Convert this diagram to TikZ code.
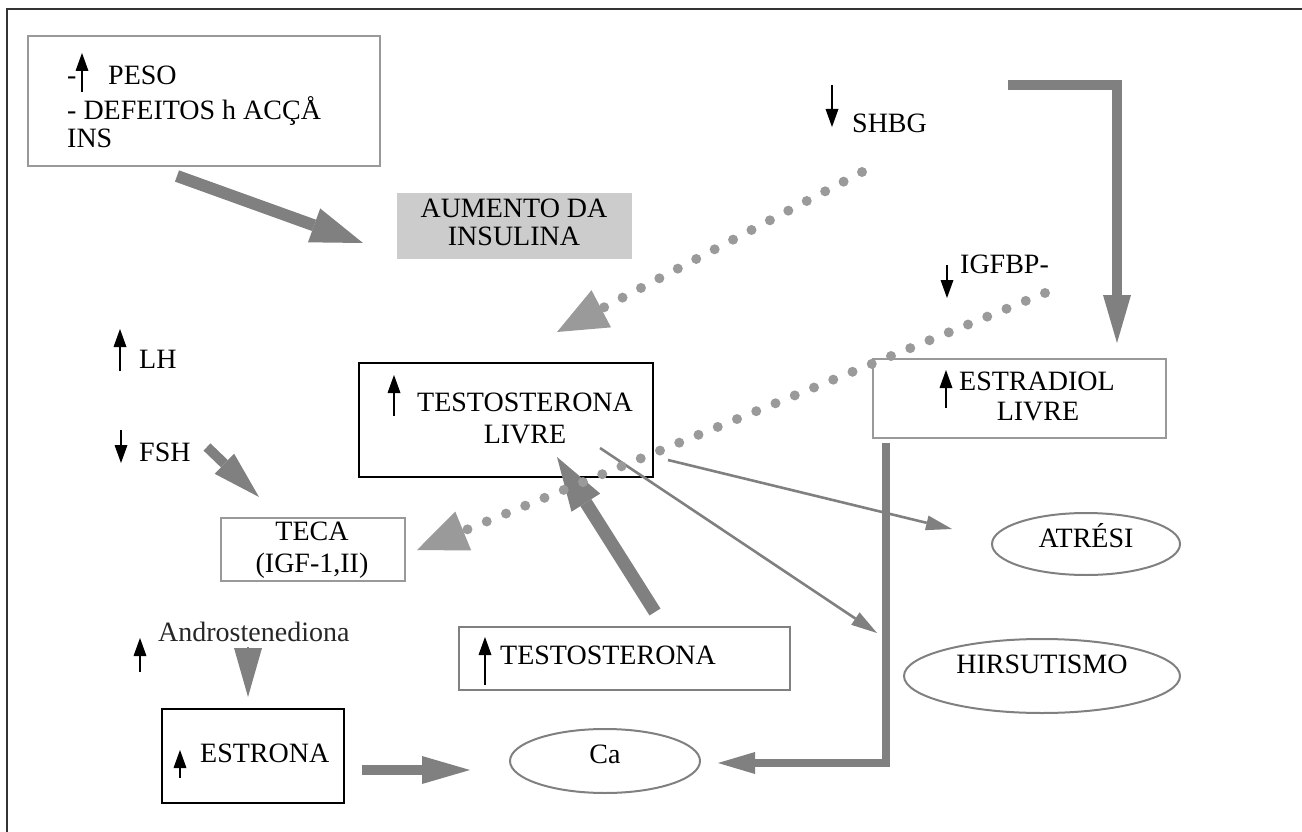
\documentclass[tikz,border=0pt]{standalone}
\usepackage{fontspec}
\setmainfont{Liberation Serif}
\usetikzlibrary{arrows.meta,shapes.geometric}
\definecolor{gA}{HTML}{808080}
\definecolor{gB}{HTML}{999999}
\definecolor{gD}{HTML}{9A9A9A}
\definecolor{gF}{HTML}{CCCCCC}
\begin{document}
\begin{tikzpicture}[x=1pt,y=-1pt,
  txt/.style={font=\fontsize{28}{32}\selectfont, inner sep=0pt, anchor=base west},
  txtc/.style={txt, anchor=base},
  gbox/.style={draw=gB, line width=1.5pt, inner sep=0pt, rectangle},
  kbox/.style={draw=black, line width=1.5pt, inner sep=0pt, rectangle},
  oval/.style={draw=gA, line width=2pt, ellipse, inner sep=0pt, font=\fontsize{28}{32}\selectfont, text height=18pt},
  glyph/.style={draw=black, line width=1.8pt, -{Triangle[length=18pt,width=13pt,line width=0pt]}},
  fat/.style args={#1/#2/#3}{draw=gA, line width=#1, -{Triangle[length=#2,width=#3,line width=0pt]}},
  dots/.style={draw=gD, line width=10pt, line cap=round, dash pattern=on 0pt off 20.8pt,
     -{Triangle[length=50pt,width=42pt,line width=0pt]}},
  thin/.style={draw=gA, line width=2.6pt, -{Triangle[length=26pt,width=15pt,line width=0pt]}}
]
\useasboundingbox (0,0) rectangle (1302,832);
% outer frame
\coordinate (fr1) at (7,832);
\coordinate (fr2) at (7,9);
\coordinate (fr3) at (1302,9);
\draw[line width=2pt, draw=black!80] (fr1) -- (fr2) -- (fr3);

% boxes
\node[gbox, minimum width=352pt, minimum height=130pt] (peso) at (204,101) {};
\node[fill=gF, inner sep=0pt, minimum width=235pt, minimum height=66pt] (aum) at (514.5,226) {};
\node[kbox, minimum width=294pt, minimum height=114pt] (livre) at (506,420) {};
\node[gbox, minimum width=293pt, minimum height=79pt] (estr) at (1019.5,398.5) {};
\node[gbox, line width=2pt, minimum width=184pt, minimum height=63pt] (teca) at (313,549.5) {};
\node[gbox, draw=gA, line width=2.5pt, minimum width=331pt, minimum height=63pt] (testo) at (624.5,658.5) {};
\node[kbox, minimum width=182pt, minimum height=94pt] (estrona) at (253,756) {};
\node[oval, minimum width=188pt, minimum height=62pt, text depth=12pt] (atresi) at (1086,544) {ATRÉSI};
\node[oval, minimum width=276pt, minimum height=74pt, text depth=24pt] (hirs) at (1042,676) {HIRSUTISMO};
\node[oval, minimum width=190pt, minimum height=64pt, text depth=14pt] (ca) at (605,761) {Ca};

% texts
\node[txt] (t1a) at (67,85) {-};
\node[txt] (t1b) at (108,85) {PESO};
\node[txt] (t2) at (67,120) {- DEFEITOS h ACÇÅ};
\node[txt] (t3) at (67,148) {INS};
\node[txtc] (aum1) at (514,217) {AUMENTO DA};
\node[txtc] (aum2) at (514,245) {INSULINA};
\node[txt] (shbg) at (852,133) {SHBG};
\node[txt] (igf) at (960,273) {IGFBP-};
\node[txt] (lh) at (139,368) {LH};
\node[txt] (fsh) at (139,461) {FSH};
\node[txt] (tl1) at (417,411) {TESTOSTERONA};
\node[txtc] (tl2) at (525,443) {LIVRE};
\node[txt] (el1) at (959,390) {ESTRADIOL};
\node[txtc] (el2) at (1038,420) {LIVRE};
\node[txtc] (tc1) at (312,540) {TECA};
\node[txtc] (tc2) at (312,572) {(IGF-1,II)};
\node[txt, text=black!85] (andro) at (158,641) {Androstenediona};
\node[txt] (tt) at (500,664) {TESTOSTERONA};
\node[txt] (es) at (200,762) {ESTRONA};

% glyph arrows
\draw[glyph] (82,92) -- (82,53);
\draw[glyph] (832,85) -- (832,127);
\draw[glyph, line width=1.4pt] (947,265) -- (947,298);
\draw[glyph] (120,371) -- (120,329);
\draw[glyph] (121,430) -- (121,463);
\draw[glyph] (394,416) -- (394,375);
\draw[glyph, line width=1.3pt] (946,408) -- (946,370);
\draw[glyph] (140,672) -- (140,638);
\draw[glyph, line width=1.2pt] (485,685) -- (485,637);
\draw[glyph] (180,778) -- (180,750);

% connector end points
\coordinate (a1s) at (177,176);
\coordinate (a1e) at (363,243);
\coordinate (d1s) at (862,172);
\coordinate (d1e) at (557,332);
\coordinate (d2s) at (1045,293);
\coordinate (d2e) at (417,550);
\coordinate (r1s) at (1008,85);
\coordinate (r1e) at (1117,343);
\coordinate (r2s) at (886,443);
\coordinate (r2e) at (718,763);
\coordinate (u1s) at (655,612);
\coordinate (u1e) at (557,457);
\coordinate (f1s) at (207,447);
\coordinate (f1e) at (259,497);
\coordinate (n1s) at (248,647);
\coordinate (n1e) at (248,697);
\coordinate (e1s) at (362,770);
\coordinate (e1e) at (470,770);
\coordinate (h1s) at (600,448);
\coordinate (h1e) at (877,633);
\coordinate (h2s) at (668,460);
\coordinate (h2e) at (952,529);

% connectors
\draw[fat=12pt/52pt/36pt] (a1s) -- (a1e);
\draw[fat=10pt/48pt/28pt] (r1s) -| (r1e);
\draw[fat=8pt/37pt/22pt] (r2s) |- (r2e);
\draw[fat=13pt/54pt/34pt] (u1s) -- (u1e);
\draw[fat=10pt/48pt/28pt] (f1s) -- (f1e);
\draw[fat=2pt/49pt/28pt] (n1s) -- (n1e);
\draw[fat=10pt/48pt/28pt] (e1s) -- (e1e);
\draw[thin] (h1s) -- (h1e);
\draw[thin] (h2s) -- (h2e);
\draw[dots] (d1s) -- (d1e);
\draw[dots] (d2s) -- (d2e);
\end{tikzpicture}
\end{document}
